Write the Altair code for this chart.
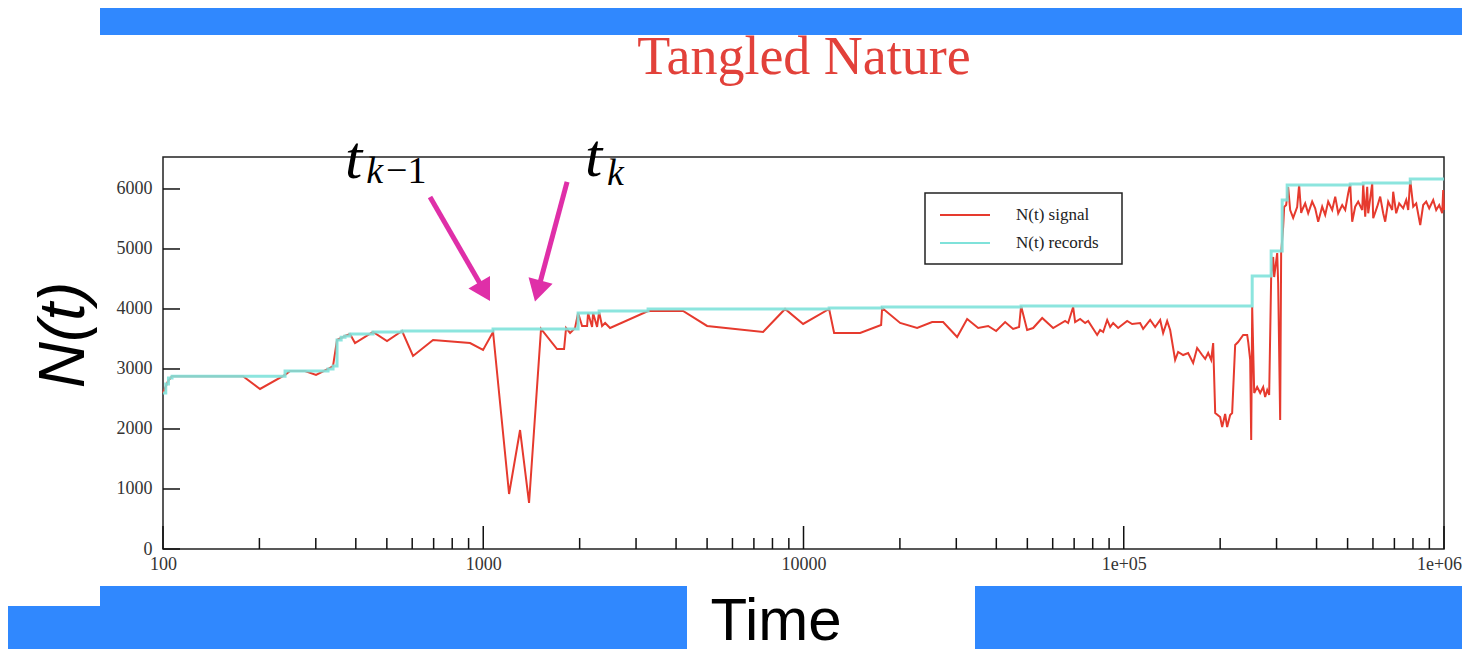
import altair as alt
import pandas as pd

# ---------------- data ----------------
sig_t = [100, 103.7, 106.7, 177.7, 200.9, 240.5, 249.3, 277.7, 300.5, 327.6, 339.6, 349.5,
         370.2, 383.7, 397.7, 452.7, 500.6, 557.8, 603.6, 697.0, 909.5, 998.6, 1073, 1204,
         1303, 1390, 1515, 1700, 1788, 1814, 1867, 1935, 1978, 2035, 2110, 2125, 2187, 2203,
         2267, 2300, 2350, 2402, 2489, 3271, 4207, 5000, 7478, 8760, 9972, 12023, 12463,
         15025, 17473, 17600, 20034, 22637, 25212, 27290, 30181, 32434, 35113, 37727, 39949,
         42620, 45130, 47115, 47800, 49920, 52130, 55630, 60190, 65610, 67040, 69500, 70500,
         73080, 75750, 77410, 82600, 84400, 86250, 88770, 90700, 92670, 96050, 102470, 106220,
         112500, 114960, 120920, 125340, 129930, 132740, 136620, 139610, 144700, 147860,
         153260, 158870, 164700, 169500, 175700, 179600, 183500, 187500, 190200, 193000,
         200000, 202900, 207300, 210300, 214900, 218000, 222800, 227600, 236000, 242900,
         244700, 248200, 250000, 251800, 255500, 261000, 266700, 272500, 276400, 280500,
         284500, 288600, 292800, 294900, 301400, 303500, 307900, 310100, 314600, 316900,
         321500, 326100, 330900, 338100, 347900, 352900, 358100, 360700, 368600, 376600,
         387600, 396100, 404700, 416500, 425600, 434900, 447600, 457400, 467400, 481000,
         491500, 502200, 509400, 516800, 528100, 539600, 555400, 559400, 567500, 575700,
         579900, 596800, 601100, 618600, 632100, 645800, 655200, 669500, 689000, 694000,
         709100, 724600, 745800, 762100, 773200, 784400, 801500, 819000, 842900, 861000,
         879900, 899100, 925400, 945500, 966100, 987200, 994300, 1000000]
sig_n = [2600, 2800, 2880, 2880, 2667, 2900, 2967, 2967, 2900, 3000, 3050, 3483,
         3550, 3583, 3433, 3617, 3467, 3633, 3217, 3483, 3433, 3317, 3617, 917,
         1983, 767, 3667, 3333, 3333, 3683, 3600, 3683, 3933, 3717, 3717, 3933, 3700, 3933,
         3700, 3950, 3717, 3767, 3683, 3967, 3967, 3717, 3617, 4000, 3750, 4000, 3600,
         3600, 3733, 4017, 3767, 3683, 3783, 3783, 3533, 3833, 3683, 3717, 3633,
         3783, 3667, 3700, 4050, 3650, 3683, 3850, 3683, 3800, 3767, 4033, 3783,
         3833, 3767, 3800, 3567, 3650, 3617, 3817, 3700, 3767, 3683, 3800, 3750,
         3767, 3667, 3817, 3700, 3817, 3600, 3800, 3650, 3150, 3283,
         3233, 3267, 3100, 3350, 3233, 3167, 3267, 3150, 3433, 2267,
         2200, 2033, 2250, 2033, 2233, 2267, 3400, 3450, 3567, 3567,
         3450, 3150, 1817, 4033, 2600, 2700, 2600, 2700, 2533, 2650,
         2567, 4533, 4867, 4533, 4933, 4433, 2150, 4933, 5367, 5700,
         5733, 6033, 5650, 5517, 5700, 6067, 5600, 5650, 5760, 5595,
         5790, 5678, 5455, 5705, 5567, 5790, 5650, 5872, 5595, 5733,
         5650, 5928, 6083, 5455, 5705, 5790, 5650, 6083, 5538, 6038,
         5595, 6095, 5512, 5705, 5872, 5595, 5455, 5790, 5650, 5955,
         5595, 5760, 5678, 5817, 5650, 6150, 5705, 5760, 5400, 5733,
         5790, 5678, 5817, 5650, 5733, 5595, 5983, 5650]

rec_t = [100, 102, 104, 106.7, 240.5, 327.6, 339.6, 349.5, 360, 370.2, 383.7, 452.7,
         557.8, 1073, 1978, 2300, 3271, 12023, 17600, 47800, 251800, 288600, 312400,
         323800, 509400, 559400, 784400, 1000000]
rec_n = [2600, 2750, 2850, 2880, 2967, 3000, 3050, 3483, 3530, 3550, 3583, 3617,
         3633, 3667, 3933, 3967, 4000, 4017, 4033, 4050, 4550, 4967, 5817,
         6067, 6083, 6100, 6167, 6167]

series_names = ["N(t) signal", "N(t) records"]
series_colors = ["#e63a2e", "#7fe2da"]

x_label_vals = [100, 1000, 10000, 100000, 1000000]
x_minor_mult = [2, 3, 4, 5, 6, 7, 8, 9]
x_minor_vals = [m * d for d in [100, 1000, 10000, 100000] for m in x_minor_mult]
y_label_vals = [0, 1000, 2000, 3000, 4000, 5000, 6000]

title_text = ["Tangled Nature"]
x_title = ["Time"]
y_title = ["N(t)"]

# annotation anchors (data coordinates)
ann_main_t = [370, 2080]
ann_main_n = [6183, 6217]
ann_k_t = [431, 2436]
ann_k_n = [6100, 6067]
ann_m1_t = [497]
ann_m1_n = [6100]
arrow_tail_t = [682, 1827]
arrow_tail_n = [5867, 6117]
arrow_head_t = [1010, 1480]
arrow_head_n = [4290, 4300]
arrow_angle = [150, 195]

# ---------------- tables ----------------
sig_df = pd.DataFrame({"t": sig_t, "N": sig_n, "series": series_names[0]})
rec_df = pd.DataFrame({"t": rec_t, "N": rec_n, "series": series_names[1]})

W, H = 1281, 392
YMAX = 6533

xscale = alt.Scale(type="log", domain=[100, 1000000], nice=False)
yscale = alt.Scale(domain=[0, YMAX], nice=False, zero=True)
cscale = alt.Scale(domain=series_names, range=series_colors)

SERIF = "Liberation Serif"
SANS = "Liberation Sans"

xaxis = alt.Axis(values=x_label_vals, ticks=False, domain=False, grid=False, title=None,
                 labelFont=SERIF, labelFontSize=18, labelColor="#333", labelPadding=6,
                 labelFlush=False,
                 labelOffset={"condition": {"test": "datum.value == 1000000", "value": -5}, "value": 0},
                 labelExpr="datum.value >= 100000 ? (datum.value == 100000 ? '1e+05' : '1e+06') : format(datum.value, 'd')")
yaxis = alt.Axis(values=y_label_vals, ticks=False, domain=False, grid=False, title=None,
                 labelFont=SERIF, labelFontSize=18, labelColor="#333", labelPadding=11,
                 format="d")

color = alt.Color("series:N", scale=cscale, legend=None)

signal = alt.Chart(sig_df).mark_line(strokeWidth=2).encode(
    x=alt.X("t:Q", scale=xscale, axis=xaxis),
    y=alt.Y("N:Q", scale=yscale, axis=yaxis),
    color=color,
)
records = alt.Chart(rec_df).mark_line(strokeWidth=3, interpolate="step-after", opacity=0.9).encode(
    x=alt.X("t:Q", scale=xscale, axis=xaxis),
    y=alt.Y("N:Q", scale=yscale, axis=yaxis),
    color=color,
)

# inward ticks, gnuplot-style
xmaj = alt.Chart(pd.DataFrame({"t": x_label_vals})).mark_rule(color="#111", strokeWidth=1.5).encode(
    x=alt.X("t:Q", scale=xscale), y=alt.value(H), y2=alt.value(H - 23))
xmin = alt.Chart(pd.DataFrame({"t": x_minor_vals})).mark_rule(color="#111", strokeWidth=1.5).encode(
    x=alt.X("t:Q", scale=xscale), y=alt.value(H), y2=alt.value(H - 11))
ytk = alt.Chart(pd.DataFrame({"N": y_label_vals})).mark_rule(color="#111", strokeWidth=1.5).encode(
    y=alt.Y("N:Q", scale=yscale), x=alt.value(0), x2=alt.value(17))

# annotations
MAG = "#df2fa8"
arr_df = pd.DataFrame({"t": arrow_tail_t, "N": arrow_tail_n, "t2": arrow_head_t, "N2": arrow_head_n,
                       "ang": arrow_angle})
arrows = alt.Chart(arr_df).mark_rule(color=MAG, strokeWidth=5).encode(
    x=alt.X("t:Q", scale=xscale), y=alt.Y("N:Q", scale=yscale), x2="t2:Q", y2="N2:Q")
heads = alt.Chart(arr_df).mark_point(shape="triangle-up", filled=True, color=MAG, size=620, opacity=1).encode(
    x=alt.X("t2:Q", scale=xscale), y=alt.Y("N2:Q", scale=yscale), angle=alt.Angle("ang:Q", scale=None))

main_t = alt.Chart(pd.DataFrame({"t": ann_main_t, "N": ann_main_n, "s": ["t", "t"]})).mark_text(
    font=SERIF, fontSize=62, fontStyle="italic", align="left", baseline="alphabetic", color="black").encode(
    x=alt.X("t:Q", scale=xscale), y=alt.Y("N:Q", scale=yscale), text="s:N")
sub_k = alt.Chart(pd.DataFrame({"t": ann_k_t, "N": ann_k_n, "s": ["k", "k"]})).mark_text(
    font=SERIF, fontSize=38, fontStyle="italic", align="left", baseline="alphabetic", color="black").encode(
    x=alt.X("t:Q", scale=xscale), y=alt.Y("N:Q", scale=yscale), text="s:N")
sub_m1 = alt.Chart(pd.DataFrame({"t": ann_m1_t, "N": ann_m1_n, "s": ["\u22121"]})).mark_text(
    font=SERIF, fontSize=38, align="left", baseline="alphabetic", color="black").encode(
    x=alt.X("t:Q", scale=xscale), y=alt.Y("N:Q", scale=yscale), text="s:N")

one = alt.Data(values=[{}])
title = alt.Chart(pd.DataFrame({"s": title_text})).mark_text(
    font=SERIF, fontSize=54, color="#e2413a", align="center", baseline="alphabetic").encode(
    x=alt.value(641), y=alt.value(-83), text="s:N")
xt = alt.Chart(pd.DataFrame({"s": x_title})).mark_text(
    font=SANS, fontSize=60, color="black", align="center", baseline="alphabetic").encode(
    x=alt.value(613), y=alt.value(483), text="s:N")
yt = alt.Chart(pd.DataFrame({"s": y_title})).mark_text(
    font=SANS, fontSize=64, fontStyle="italic", color="black", align="center", baseline="alphabetic",
    angle=270).encode(x=alt.value(-79), y=alt.value(178), text="s:N")

# legend box (gnuplot style, inside the plot)
LX0, LX1, LY0, LY1 = 762, 959, 36, 107
leg_box = alt.Chart(one).mark_rect(fill="white", stroke="#222", strokeWidth=1.5).encode(
    x=alt.value(LX0), x2=alt.value(LX1), y=alt.value(LY0), y2=alt.value(LY1))
leg_layers = [leg_box]
for i, (name, col) in enumerate(zip(series_names, series_colors)):
    yy = 58 + 28 * i
    leg_layers.append(alt.Chart(one).mark_rule(color=col, strokeWidth=2).encode(
        x=alt.value(777), x2=alt.value(827), y=alt.value(yy)))
    leg_layers.append(alt.Chart(one).mark_text(text=name, font=SERIF, fontSize=17, color="#222",
                                               align="left", baseline="middle").encode(
        x=alt.value(853), y=alt.value(yy)))

BLUE = "#3088fe"
def band(x0, x1, y0, y1):
    return alt.Chart(one).mark_rect(color=BLUE).encode(
        x=alt.value(x0), x2=alt.value(x1), y=alt.value(y0), y2=alt.value(y1))

bg = [band(-63, 1310, -160, -122), band(-63, 524, 429, 510), band(-170, -63, 449, 510),
      band(812, 1310, 429, 510)]

chart = alt.layer(*bg, signal, records, xmaj, xmin, ytk, arrows, heads, main_t, sub_k, sub_m1,
                  *leg_layers, title, xt, yt).properties(
    width=W, height=H,
    autosize=alt.AutoSizeParams(type="none"),
    padding={"left": 155, "top": 149, "right": 18, "bottom": 100},
    background="white",
).configure_view(stroke="#222", strokeWidth=1.5).resolve_scale(x="shared", y="shared")

chart.save("out.html", embed_options={"renderer": "svg", "actions": False})
